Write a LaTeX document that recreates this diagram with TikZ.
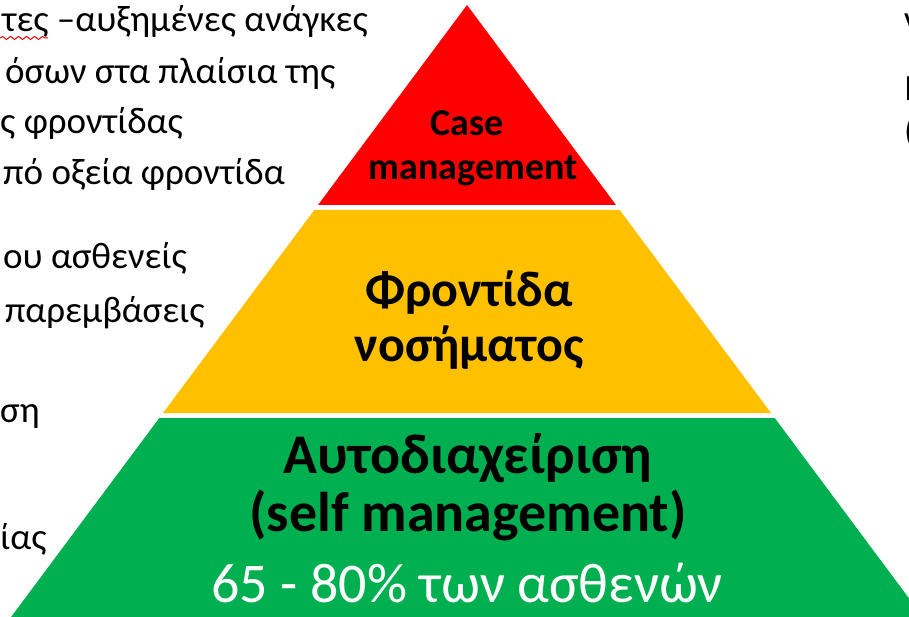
\documentclass[tikz,border=0pt]{standalone}
\usepackage{fontspec}
\setmainfont{Carlito}
\usetikzlibrary{decorations.pathmorphing}
\definecolor{tierred}{HTML}{FF0000}
\definecolor{tieryellow}{HTML}{FFC000}
\definecolor{tiergreen}{HTML}{00B050}
\tikzset{
  sidetext/.style={anchor=base west,inner sep=0pt,font=\fontsize{37}{40}\selectfont},
  tiertext/.style={anchor=base,inner sep=0pt,font=\fontsize{#1}{#1}\selectfont\bfseries},
  tiernote/.style={anchor=base,inner sep=0pt,text=white,font=\fontsize{56}{56}\selectfont}
}

\begin{document}
\begin{tikzpicture}[x=1pt,y=-1pt]
  \useasboundingbox (0,0) rectangle (909,617);
  \clip (0,0) rectangle (909,617);
  % pyramid tiers
  \fill[tierred] (467,5) -- (616,205) -- (318,205) -- cycle;
  \fill[tieryellow] (314.3,210) -- (619.7,210) -- (771,413) -- (163,413) -- cycle;
  \fill[tiergreen] (159.3,418) -- (774.7,418) -- (932.6,630) -- (1.4,630) -- cycle;
  % tier labels
  \node[tiertext=38] (T-1) at (467,136) {Case};
  \node[tiertext=38] (T-2) at (473,180) {management};
  \node[tiertext=50] (T-3) at (469,306) {Φροντίδα};
  \node[tiertext=50] (T-4) at (469,361) {νοσήματος};
  \node[tiertext=56] (T-5) at (468,473) {Αυτοδιαχείριση};
  \node[tiertext=56] (T-6) at (468,531) {(self management)};
  \node[tiernote] (T-7) at (467,602) {65 - 80\% των ασθενών};
  % text on the left
  \node[sidetext] (L-1) at (2,32) {τες –αυξημένες ανάγκες};
  \node[sidetext] (L-2) at (5,84) {όσων στα πλαίσια της};
  \node[sidetext] (L-3) at (0,134) {ς φροντίδας};
  \node[sidetext] (L-4) at (3,185) {πό οξεία φροντίδα};
  \node[sidetext] (L-5) at (3,269) {ου ασθενείς};
  \node[sidetext] (L-6) at (5,322) {παρεμβάσεις};
  \node[sidetext] (L-7) at (0,422) {ση};
  \node[sidetext] (L-8) at (0,549) {ίας};
  \draw[red,line width=1pt,decorate,decoration={snake,amplitude=1.5pt,segment length=8pt}]
    (0,38) -- (48,38);
  % text on the right
  \node[sidetext] (R-1) at (904,32) {ν};
  \node[sidetext] (R-2) at (904,101) {Ι};
  \node[sidetext] (R-3) at (904,144) {(};
\end{tikzpicture}
\end{document}
